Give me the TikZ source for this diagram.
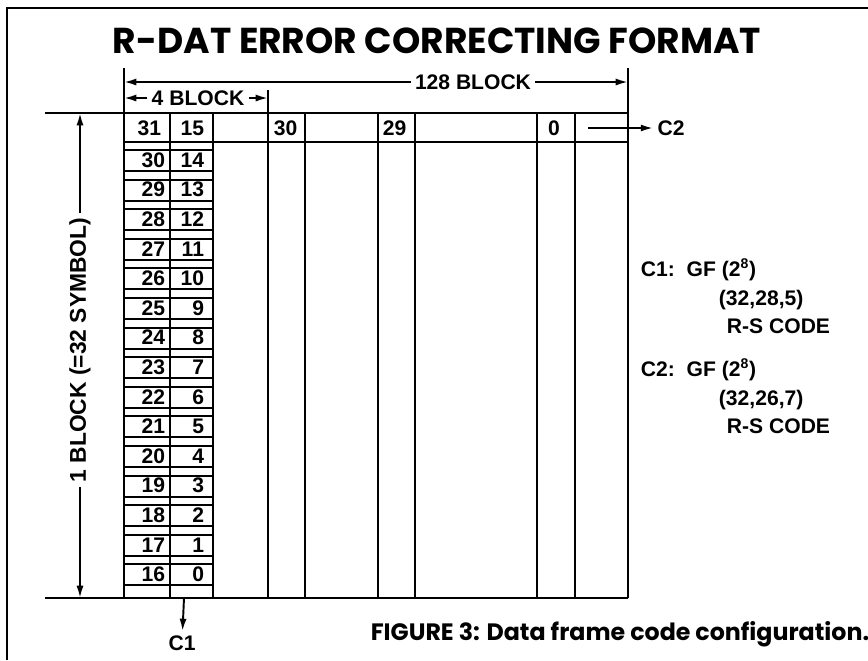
\documentclass[tikz,border=0pt]{standalone}
\usepackage{fontspec}
\usetikzlibrary{arrows.meta}
\setmainfont{Liberation Sans}
\newfontfamily\avant{Poppins}
\begin{document}
\begin{tikzpicture}[x=0.02cm, y=-0.02cm, line width=1.1pt, >={Latex[length=7pt,width=4pt]},
    lbl/.style={font=\bfseries\fontsize{12}{14}\selectfont, fill=white, inner sep=2pt},
    num/.style={font=\bfseries\fontsize{12}{14}\selectfont, inner sep=0pt},
    note/.style={font=\bfseries\fontsize{12}{14}\selectfont, anchor=west, inner sep=0pt}]
    \useasboundingbox (0,0) rectangle (868,660);
    \draw (7,660) -- (7,8) -- (868,8);
    \node[font=\avant\bfseries\fontsize{20.5}{24}\selectfont] (title) at (437,41) {R-DAT ERROR CORRECTING FORMAT};

    % frame of the block
    \coordinate (topL) at (45,113);
    \coordinate (topR) at (628,113);
    \coordinate (botL) at (45,598);
    \coordinate (botR) at (628,598);
    \draw (topL) -- (topR);
    \draw (botL) -- (botR);
    \draw[line width=1.6pt] (124,68) -- (124,598);
    \draw (topR) ++(0,-45) -- (botR);
    \draw (124,142) -- (628,142);
    \foreach \x in {268,305,378,415,537,575}
        \draw (\x,113) -- (\x,598);
    \draw (268,90) -- (268,113);

    % C1 symbol columns
    \draw (170,113) -- (170,598);
    \draw (213,113) -- (213,598);
    \draw (124,585) -- (213,585);
    \node[num, anchor=east] (n31) at (162,128) {31};
    \node[num, anchor=east] (n15) at (205,128) {15};
    \foreach \a [count=\i from 0, evaluate=\a as \b using int(\a-16)] in {30,29,...,16} {
        \draw (124,150+\i*29.6) -- (213,150+\i*29.6);
        \draw (124,171+\i*29.6) -- (213,171+\i*29.6);
        \node[num, anchor=east] (l\a) at (166,160+\i*29.6) {\a};
        \node[num, anchor=east] (r\b) at (205,160+\i*29.6) {\b};
    }
    \node[num, anchor=west] (c30) at (273,128) {30};
    \node[num, anchor=west] (c29) at (382,128) {29};
    \node[num] (c0) at (554,128) {0};

    % dimensions
    \node[lbl] (blk128) at (473,82) {128 BLOCK};
    \draw[->] (blk128) -- (124,82);
    \draw[->] (blk128) -- (628,82);
    \node[lbl] (blk4) at (198,98) {4 BLOCK};
    \draw[->] (blk4) -- (124,98);
    \draw[->] (blk4) -- (268,98);
    \node[lbl, font=\bfseries\fontsize{13}{15}\selectfont, rotate=90] (blk1) at (80,350) {1 BLOCK (=32 SYMBOL)};
    \draw[->] (blk1) -- (80,113);
    \draw[->] (blk1) -- (80,598);

    % code directions
    \coordinate (c2from) at (588,128);
    \node[lbl] (c2) at (671,128) {C2};
    \draw[->] (c2from) -- (c2);
    \coordinate (c1from) at (184,598);
    \node[lbl] (c1) at (182,643) {C1};
    \draw[->] (c1from) -- (c1);

    \node[note] (gf1) at (640,270) {C1:\ \ GF (2\textsuperscript{8})};
    \node[note] (rs1a) at (718,300) {(32,28,5)};
    \node[note] (rs1b) at (726,326) {R-S CODE};
    \node[note] (gf2) at (640,370) {C2:\ \ GF (2\textsuperscript{8})};
    \node[note] (rs2a) at (718,400) {(32,26,7)};
    \node[note] (rs2b) at (726,426) {R-S CODE};

    \node[font=\avant\bfseries\fontsize{13.5}{15}\selectfont] (cap) at (620,634) {FIGURE 3: Data frame code configuration.};
\end{tikzpicture}
\end{document}
